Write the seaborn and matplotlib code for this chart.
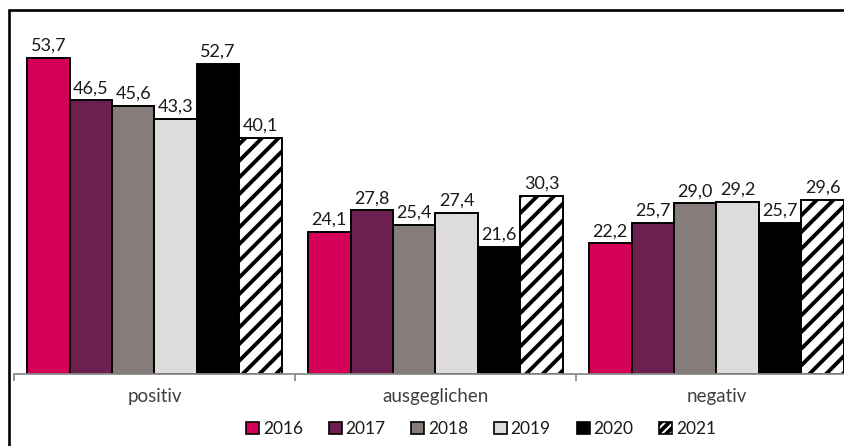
"""
Bar chart: Bewertung positiv / ausgeglichen / negativ, 2016-2021.
"""
import pandas as pd
import matplotlib.pyplot as plt
from matplotlib.lines import Line2D
from matplotlib.patches import Patch
import seaborn as sns

categories = ['positiv', 'ausgeglichen', 'negativ']
years = ['2016', '2017', '2018', '2019', '2020', '2021']
values = {
    '2016': [53.7, 24.1, 22.2],
    '2017': [46.5, 27.8, 25.7],
    '2018': [45.6, 25.4, 29.0],
    '2019': [43.3, 27.4, 29.2],
    '2020': [52.7, 21.6, 25.7],
    '2021': [40.1, 30.3, 29.6],
}
colors = {'2016': '#d5005a', '2017': '#6d1f50', '2018': '#867c79',
          '2019': '#dddbdc', '2020': '#000000', '2021': '#ffffff'}


def fmt(v):
    return f'{v:.1f}'.replace('.', ',')


if __name__ == '__main__':
    sns.set_theme(style='white')
    plt.rcParams['font.family'] = ['Lato', 'DejaVu Sans']
    plt.rcParams['hatch.linewidth'] = 2.8

    df = pd.DataFrame([(c, y, values[y][i]) for y in years
                       for i, c in enumerate(categories)],
                      columns=['cat', 'year', 'val'])

    fig = plt.figure(figsize=(8.45, 4.46), dpi=100)
    ax = fig.add_axes([14 / 845, 72 / 446, 843 / 845, 353 / 446])
    sns.barplot(data=df, x='cat', y='val', hue='year', order=categories,
                hue_order=years, palette=colors, saturation=1, width=0.907,
                gap=0, edgecolor='black', linewidth=1.4, legend=False,
                errorbar=None, ax=ax)

    # 2021 is the last hue level -> hatched
    for bar in ax.containers[-1]:
        bar.set_hatch('//')

    for year, cont in zip(years, ax.containers):
        ax.bar_label(cont, labels=[fmt(v) for v in values[year]],
                     padding=3, fontsize=13, color='#1a1a1a')

    ax.set_xlim(-0.5, 2.5)
    ax.set_ylim(0, 60)
    ax.set_facecolor('none')
    for side in ['left', 'right', 'top']:
        ax.spines[side].set_visible(False)
    ax.spines['bottom'].set_color('#8c8c8c')
    ax.spines['bottom'].set_linewidth(1.3)
    ax.set_yticks([])
    ax.set_xticks(range(len(categories)))
    ax.set_xticklabels(categories, fontsize=13.5, color='#404040')
    ax.set_xticks([-0.5, 0.5, 1.5, 2.5], minor=True)
    ax.tick_params(axis='x', which='major', length=0, pad=10)
    ax.tick_params(axis='x', which='minor', length=5, width=1.3,
                   color='#8c8c8c', direction='out', bottom=True)
    ax.set_xlabel('')
    ax.set_ylabel('')

    handles = [Patch(facecolor=colors[y], edgecolor='black', linewidth=1.2,
                     hatch='////' if y == '2021' else None) for y in years]
    fig.legend(handles, years, loc='center', ncol=6,
               bbox_to_anchor=(481 / 845, 17 / 446), frameon=False,
               fontsize=12.5, handlelength=0.75, handleheight=0.75,
               handletextpad=0.2, columnspacing=1.5, labelcolor='#1a1a1a')

    # frame of the screenshot (left and top edges only)
    fig.add_artist(Line2D([9 / 845, 9 / 845], [0, 1 - 9.5 / 446],
                          color='black', lw=1.9, transform=fig.transFigure))
    fig.add_artist(Line2D([9 / 845, 1], [1 - 9.5 / 446, 1 - 9.5 / 446],
                          color='black', lw=1.9, transform=fig.transFigure))

    fig.savefig('out.png', dpi=100)
